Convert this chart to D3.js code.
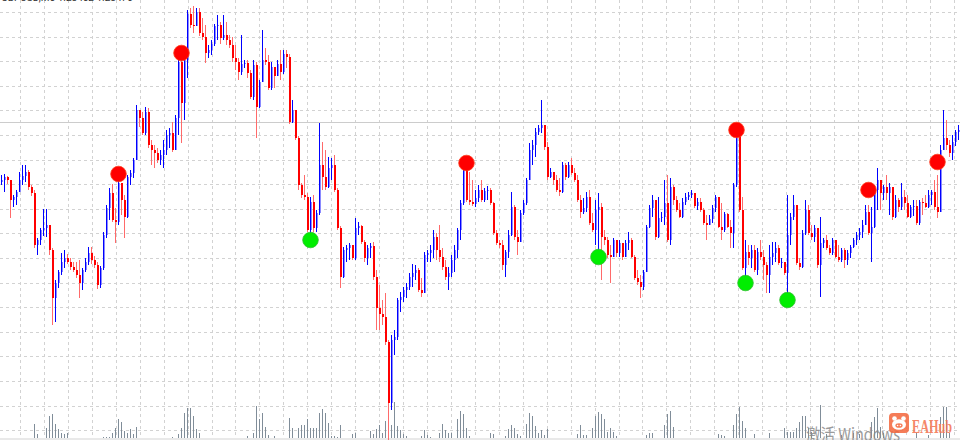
<!DOCTYPE html>
<html>
<head>
<meta charset="utf-8">
<script src="https://cdnjs.cloudflare.com/ajax/libs/d3/7.8.5/d3.min.js"></script>
<style>
  html, body { margin: 0; padding: 0; background: #fff; overflow: hidden; }
  svg { display: block; }
</style>
</head>
<body>
<svg id="chart" width="960" height="440"></svg>
<script>
// price in points, one bar per period; open of a bar = close of the bar before
const firstOpen = 318;
const closes = [
  320,323,320,300,303,308,320,324,328,313, 307,255,260,270,272,275,250,202,217,228,
  238,242,238,233,230,225,217,230,238,247, 240,235,215,232,265,292,307,280,278,317,
  300,283,323,327,340,390,382,367,388,355, 350,347,340,345,350,365,367,350,382,438,
  397,440,486,475,474,488,467,463,447,450, 456,474,475,462,465,460,455,442,438,428,
  436,437,427,403,435,393,418,440,438,412, 433,424,436,428,446,443,378,390,362,315,
  305,303,270,298,272,287,335,323,313,332, 335,310,272,223,250,252,255,242,272,274,
  258,242,252,254,223,192,186,183,158,97,  160,163,200,203,210,213,223,227,230,210,
  207,245,247,250,263,250,243,233,223,227, 240,250,270,297,330,300,298,296,302,310,
  300,309,310,297,267,257,255,235,248,265, 293,263,258,287,297,320,350,355,368,372,
  375,353,323,328,320,310,308,335,323,335, 327,320,300,288,292,303,277,270,290,293,
  263,260,245,243,260,247,257,243,257,260, 243,222,218,213,228,273,292,300,263,282,
  283,297,260,313,300,290,283,298,303,305, 307,294,298,290,277,275,281,292,303,273,
  270,286,273,267,315,365,290,232,248,242, 250,230,248,243,235,225,243,247,252,237,
  238,227,265,283,295,237,233,267,290,267, 263,272,235,257,260,252,247,260,243,240,
  250,240,247,253,260,265,268,275,288,267, 273,310,320,307,313,307,313,283,300,293,
  303,297,283,293,294,277,298,297,293,305, 308,293,288,350,362,355,347,358,368,370
];
const highs = [
  325,326,324,320,305,310,328,335,335,330, 315,310,262,272,291,291,275,252,220,230,
  247,250,246,242,238,238,240,232,242,253, 253,244,238,234,268,295,312,316,292,322,
  315,305,325,330,342,395,390,388,393,392, 360,355,352,350,360,370,372,378,385,442,
  450,445,490,492,494,492,492,482,475,455, 460,476,485,478,485,478,465,463,455,442,
  465,440,440,430,440,438,420,470,452,445, 438,430,440,450,450,450,446,400,390,364,
  317,325,307,303,305,290,377,358,350,343, 342,345,312,274,253,255,257,255,282,278,
  275,260,255,257,258,230,215,200,207,160, 165,170,202,208,213,217,227,236,235,232,
  222,248,250,255,270,267,275,252,240,233, 245,255,272,300,335,332,328,320,310,315,
  320,312,314,312,298,270,260,260,250,270, 308,295,270,290,300,322,357,360,372,375,
  400,375,358,332,328,325,322,338,337,338, 342,332,325,305,302,308,310,287,300,307,
  297,270,263,255,262,260,260,255,260,268, 262,245,230,225,230,275,295,305,300,303,
  288,320,325,322,315,304,297,302,307,308, 310,305,302,302,292,285,285,295,305,302,
  297,288,287,280,317,370,367,303,260,255, 255,255,252,260,250,238,255,258,258,255,
  242,238,305,287,305,295,242,270,300,295, 275,275,260,283,262,265,255,262,255,255,
  252,252,250,255,262,268,272,280,295,295, 293,315,332,320,315,325,317,305,305,302,
  317,310,305,295,300,300,300,302,305,310, 310,320,325,355,390,380,360,365,370,375
];
const lows = [
  315,308,316,282,293,295,310,315,318,310, 304,252,245,255,264,263,245,175,178,212,
  225,232,236,230,228,222,202,210,228,235, 236,232,211,212,230,262,280,278,257,275,
  285,262,282,315,322,340,373,365,365,352, 335,332,337,335,332,345,352,348,350,365,
  357,380,422,472,467,474,464,460,437,442, 445,454,460,456,460,455,452,438,430,420,
  425,432,422,401,400,362,392,418,435,410, 410,412,424,420,426,432,376,377,360,310,
  302,300,268,258,268,268,285,310,310,312, 320,308,270,212,222,238,240,240,240,265,
  256,238,235,242,220,170,170,175,155,60,  90,145,160,188,198,202,210,213,220,208,
  203,210,238,238,242,240,238,230,220,210, 223,228,242,260,295,298,295,294,293,298,
  298,298,300,295,265,255,252,230,223,242, 264,260,245,260,285,295,320,335,343,365,
  367,350,320,322,315,308,304,307,320,322, 325,318,298,282,286,288,275,268,255,243,
  220,255,242,217,243,243,243,240,247,250, 242,220,215,202,210,228,272,283,260,262,
  278,275,258,255,295,288,282,282,295,300, 302,292,290,288,275,260,275,277,288,272,
  260,268,272,252,252,313,288,230,217,235, 232,228,225,240,220,207,207,235,238,235,
  232,225,203,255,280,235,230,232,265,265, 260,258,232,203,252,250,245,245,242,238,
  238,232,235,242,252,255,260,262,275,265, 238,272,290,290,300,300,285,280,282,288,
  290,290,282,282,284,275,275,285,292,292, 295,290,282,290,350,350,343,340,354,360
];
const volumes = [
  0,0,0,0,0,0,0,0,0,0,      0,14,4,0,0,10,22,24,14,9,
  5,4,5,0,0,0,0,0,0,0,      0,0,0,0,1,1,1,5,10,19,
  16,7,5,9,4,11,0,0,0,0,    0,0,0,0,0,0,0,1,0,4,
  10,25,30,30,22,9,5,0,0,0, 0,0,0,0,0,0,0,0,0,0,
  0,0,2,0,5,32,19,25,11,3,  0,2,0,0,0,0,20,10,0,10,
  13,13,19,10,10,10,25,29,25,15, 2,2,1,13,0,0,0,4,5,0,
  0,0,0,7,4,9,13,5,17,15,   13,36,12,8,4,2,0,0,0,0,
  2,8,3,1,0,0,5,14,8,5,     5,0,19,27,24,10,2,0,0,0,
  0,0,0,5,4,0,0,0,2,9,      13,10,4,2,0,14,25,22,12,5,
  8,3,9,0,0,0,0,0,0,0,      0,0,4,13,3,3,0,10,22,26,
  24,19,6,10,6,2,0,0,0,0,   0,0,0,0,0,3,5,5,0,0,
  0,13,24,27,11,0,0,0,0,0,  0,0,0,0,0,0,0,0,0,4,
  3,2,0,0,13,24,31,17,10,0, 0,4,0,0,0,0,5,0,0,0,
  0,10,6,6,6,10,16,22,22,10, 6,0,0,33,0,4,0,0,0,0,
  3,0,0,0,5,0,4,0,0,0,      16,21,30,11,5,0,0,0,0,0,
  0,0,0,0,0,5,0,0,0,3,      0,0,0,21,31,31,5,0,0,0
];
// signal arrows (dots): bar index and price
const sellIdx = [39, 60, 155, 245, 289, 312];
const sellPrice = [326, 447, 337, 370, 310, 338];
const buyIdx = [103, 199, 248, 262];
const buyPrice = [260, 243, 217, 200];
const bidPrice = 378;
// grid: price levels every 24.6 points, time lines every ~8 bars
const gridTop = 488;
const gridStep = 24.6;
const timeGridStart = 6.17;
const timeGridStep = 7.98;

let svg, x, y, vol;

document.addEventListener("DOMContentLoaded", function(){
    svg = d3.select('#chart');

    x = d3.scaleLinear().domain([0, 320]).range([1.5, 961.5]);
    y = d3.scaleLinear().domain([60, 500]).range([440, 0]);
    vol = d3.scaleLinear().domain([0, 40]).range([438, 398]);

    let candles = buildCandles();
    drawGrid();
    drawVolume();
    drawCandles(candles);
    drawSignals();
    drawWatermark();
});

function buildCandles(){
    let out = [];
    closes.forEach((c, i) => {
        let o = i == 0 ? firstOpen : closes[i - 1];
        out.push({
            i: i,
            open: o,
            close: c,
            high: Math.max(highs[i], o, c),
            low: Math.min(lows[i], o, c),
            up: c >= o
        });
    });
    return out;
}

function drawGrid(){
    let g = svg.append('g');
    let prices = d3.range(gridTop, 60, -gridStep);
    let times = d3.range(timeGridStart, 320, timeGridStep);

    g.selectAll('line.h').data(prices).enter().append('line')
        .attr('x1', 0).attr('x2', 960)
        .attr('y1', d => Math.round(y(d)) + 0.5)
        .attr('y2', d => Math.round(y(d)) + 0.5)
        .attr('stroke', '#d2d2d2')
        .attr('stroke-dasharray', '3,3');

    g.selectAll('line.v').data(times).enter().append('line')
        .attr('y1', 0).attr('y2', 440)
        .attr('x1', d => Math.round(x(d)) + 0.5)
        .attr('x2', d => Math.round(x(d)) + 0.5)
        .attr('stroke', '#d2d2d2')
        .attr('stroke-dasharray', '3,3');

    // bid line
    g.append('line')
        .attr('x1', 0).attr('x2', 960)
        .attr('y1', Math.round(y(bidPrice)) + 0.5)
        .attr('y2', Math.round(y(bidPrice)) + 0.5)
        .attr('stroke', '#cccccc');

    // chart bottom strip
    svg.append('rect')
        .attr('x', 0).attr('y', 438).attr('width', 960).attr('height', 2)
        .attr('fill', '#e9e9e9');

    // symbol line, mostly cut off by the top edge
    svg.append('text')
        .attr('x', 1).attr('y', 0.5)
        .attr('font-family', 'Roboto, sans-serif')
        .attr('font-size', 10)
        .attr('fill', '#333')
        .text('GBPUSD,M5  1.28452 1.28470');
}

function drawVolume(){
    let data = volumes.map((v, i) => ({i: i, v: v})).filter(d => d.v > 0);
    svg.append('g').selectAll('line').data(data).enter().append('line')
        .attr('x1', d => x(d.i)).attr('x2', d => x(d.i))
        .attr('y1', vol(0)).attr('y2', d => vol(d.v))
        .attr('stroke', '#808d99')
        .attr('stroke-width', 1);
}

function drawCandles(data){
    let g = svg.append('g');

    // red wicks go under the bodies
    g.selectAll('line.dw').data(data.filter(d => !d.up)).enter().append('line')
        .attr('x1', d => x(d.i)).attr('x2', d => x(d.i))
        .attr('y1', d => y(d.high)).attr('y2', d => y(d.low))
        .attr('stroke', '#ff6a6a');

    g.selectAll('rect.body').data(data).enter().append('rect')
        .attr('x', d => x(d.i) - 0.5)
        .attr('width', 2)
        .attr('y', d => y(Math.max(d.open, d.close)))
        .attr('height', d => Math.max(1, Math.abs(y(d.open) - y(d.close))))
        .attr('fill', d => d.up ? '#8a8aff' : '#ff0000');

    // blue wicks on top give the dark edge
    g.selectAll('line.uw').data(data.filter(d => d.up)).enter().append('line')
        .attr('x1', d => x(d.i)).attr('x2', d => x(d.i))
        .attr('y1', d => y(d.high)).attr('y2', d => y(d.low))
        .attr('stroke', '#0000ff');
}

function drawSignals(){
    let g = svg.append('g');
    g.selectAll('circle.sell').data(sellIdx).enter().append('circle')
        .attr('cx', d => x(d))
        .attr('cy', (d, k) => y(sellPrice[k]))
        .attr('r', 7.8)
        .attr('fill', '#ff0000')
        .attr('stroke', '#ff3a1a')
        .attr('stroke-width', 0.8);
    g.selectAll('circle.buy').data(buyIdx).enter().append('circle')
        .attr('cx', d => x(d))
        .attr('cy', (d, k) => y(buyPrice[k]))
        .attr('r', 7.8)
        .attr('fill', '#00ee00')
        .attr('stroke', '#2fbf2f')
        .attr('stroke-width', 0.8);
}

function drawWatermark(){
    svg.append('text')
        .attr('x', 806).attr('y', 441)
        .attr('font-family', '"Noto Sans CJK SC", "Noto Sans", sans-serif')
        .attr('font-size', 17)
        .attr('textLength', 94)
        .attr('lengthAdjust', 'spacingAndGlyphs')
        .attr('fill', '#8a8a8a')
        .attr('opacity', 0.85)
        .text('激活 Windows');

    let logo = svg.append('g').attr('opacity', 0.85);
    logo.append('rect')
        .attr('x', 889).attr('y', 413).attr('width', 20).attr('height', 20)
        .attr('rx', 4).attr('fill', '#f4663c');
    logo.append('circle').attr('cx', 894.5).attr('cy', 418.5).attr('r', 2.3).attr('fill', '#fff');
    logo.append('circle').attr('cx', 903.5).attr('cy', 418.5).attr('r', 2.3).attr('fill', '#fff');
    logo.append('ellipse').attr('cx', 899).attr('cy', 424.5).attr('rx', 7).attr('ry', 5.3).attr('fill', '#fff');
    logo.append('ellipse').attr('cx', 899).attr('cy', 425.5).attr('rx', 3.6).attr('ry', 2.3).attr('fill', '#f4663c');
    logo.append('circle').attr('cx', 897.6).attr('cy', 425.5).attr('r', 0.8).attr('fill', '#fff');
    logo.append('circle').attr('cx', 900.4).attr('cy', 425.5).attr('r', 0.8).attr('fill', '#fff');

    svg.append('text')
        .attr('x', 912).attr('y', 432.5)
        .attr('font-family', '"Liberation Serif", serif')
        .attr('font-weight', 'bold')
        .attr('font-size', 18)
        .attr('textLength', 40)
        .attr('lengthAdjust', 'spacingAndGlyphs')
        .attr('fill', '#f47a58')
        .attr('opacity', 0.9)
        .text('EAHub');
}
</script>
</body>
</html>
